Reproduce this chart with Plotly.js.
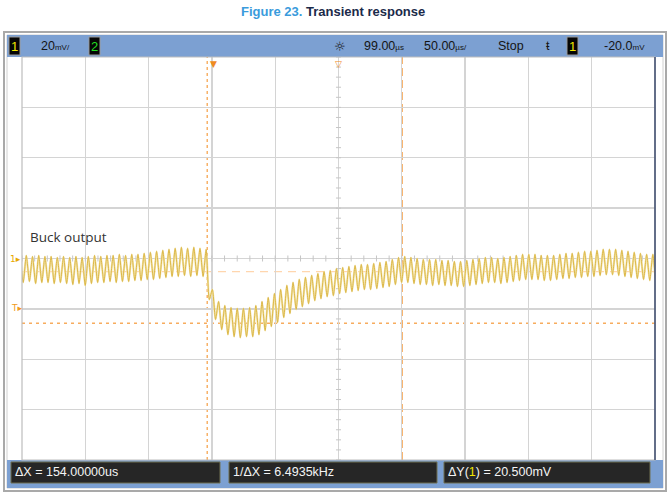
<!DOCTYPE html>
<html><head><meta charset="utf-8">
<script src="https://cdn.plot.ly/plotly-3.0.1.min.js"></script>
<style>body{margin:0;background:#fff}#chart{width:670px;height:496px}</style>
</head><body><div id="chart"></div>
<script>
// ---- data ----
const channelLabel = 'Buck output';
// ripple peaks / troughs of channel 1 (mV), one value per switching cycle
const peakMv = [0.8,1.2,0.8,1.2,0.8,0.8,0.4,0.8,0.4,0.8, 0.4,0.8,1.2,0.8,1.2,1.2,1.6,1.2,1.6,1.6,
  2.0,2.4,2.8,3.2,3.6,4.0,4.4,4.0,4.4,4.0, 3.6,-12.3,-17.1,-18.7,-19.5,-19.8,-19.8,-19.5,-18.7,-17.1,
  -15.5,-13.9,-12.3,-10.7,-9.5,-8.3,-7.5,-6.7,-6.0,-5.2, -4.8,-4.0,-3.6,-3.2,-2.8,-2.4,-2.4,-2.0,-1.6,-1.2,
  -0.4,0.4,0.8,0.4,0.0,-0.4,-0.4,-0.4,-0.8,-0.8, -1.2,-1.2,-0.8,-0.4,0.0,0.4,0.4,0.0,0.4,0.8,
  1.2,1.6,1.6,1.6,1.2,1.2,1.2,1.6,2.0,2.0, 2.4,2.8,2.8,3.2,3.6,3.6,3.6,3.2,2.8,2.4, 2.0,1.6,1.6,1.2];
const troughMv = [-9.5,-9.1,-9.9,-9.5,-9.5,-9.9,-9.5,-9.9,-10.3,-9.9, -10.7,-9.9,-9.5,-9.5,-9.1,-9.5,-9.1,-9.1,-8.7,-8.7,
  -8.3,-8.3,-7.9,-7.5,-7.1,-7.1,-6.7,-7.1,-6.7,-7.1, -16.3,-24.2,-28.2,-30.2,-31.0,-31.4,-31.0,-31.0,-30.2,-28.6,
  -27.0,-25.4,-23.4,-21.8,-20.2,-19.1,-17.9,-16.7,-15.9,-15.1, -14.7,-13.9,-13.5,-13.1,-12.7,-12.3,-12.3,-11.9,-11.5,-11.1,
  -10.3,-9.5,-9.5,-9.9,-10.3,-10.3,-10.7,-10.3,-10.7,-10.7, -11.1,-11.1,-10.7,-10.3,-9.9,-9.5,-9.5,-9.9,-9.5,-9.1,
  -8.7,-8.3,-8.3,-8.3,-8.7,-8.7,-8.3,-7.9,-7.9,-7.5, -7.5,-7.1,-7.1,-6.7,-6.4,-6.4,-6.7,-7.1,-7.5,-7.9, -8.3,-8.7,-8.7,-8.7];
const samplePeriodUs = 4.9;
const firstPeakUs = -152.5;
const timeRangeUs = [-151, 349];
const voltRangeMv = [-80, 80];
const timePerDivUs = 50;
const voltPerDivMv = 20;
const delayUs = 99;
const triggerTimeUs = 0;
const triggerLevelMv = -20;
const cursorXUs = [-4.7, 149.3];
const cursorYMv = [-5.2, -25.7];
const topBarTexts = ['20', 'mV/', '99.00', 'µs', '50.00', 'µs/', 'Stop', '-20.0', 'mV'];
const bottomTexts = ['ΔX = 154.00000us', '1/ΔX = 6.4935kHz', 'ΔY(', '1', ') = 20.500mV'];
const titleParts = ['Figure 23.', 'Transient response'];

// ---- build trace samples ----
const t = [], v = [];
for (let k = 0; k < peakMv.length; k++) {
  t.push(firstPeakUs + k * samplePeriodUs); v.push(peakMv[k]);
  t.push(firstPeakUs + k * samplePeriodUs + samplePeriodUs / 2); v.push(troughMv[k]);
}

// ---- pixel helpers for decorations ----
const L = 22, R = 655, T = 57, B = 460;
const px = X => (X - L) / (R - L);
const py = Y => (B - Y) / (B - T);
const narrow = 'Liberation Sans, Arial, sans-serif';

const shapes = [];
function rect(x0, y0, x1, y1, fill, line, lw, layer) {
  shapes.push({type: 'rect', xref: 'paper', yref: 'paper', x0: px(x0), x1: px(x1), y0: py(y1), y1: py(y0),
    fillcolor: fill || 'rgba(0,0,0,0)', line: {color: line || 'rgba(0,0,0,0)', width: lw || 0}, layer: layer || 'above'});
}
// outer frame and bars
rect(4, 32, 666, 491, null, '#A9A9A9', 2);
rect(7, 35, 663, 488, null, '#D0D0D0', 1);
rect(7, 35, 663, 57, '#7CA0D2', '#7CA0D2', 0);
rect(7, 460, 663, 488, '#7CA0D2', '#7CA0D2', 0);
rect(9, 37, 20, 55, '#050505', '#9A9A9A', 1);
rect(89, 37, 100, 55, '#050505', '#9A9A9A', 1);
rect(567, 37, 578, 55, '#050505', '#9A9A9A', 1);
rect(11, 462, 220, 483, '#262626', '#6E6E50', 1);
rect(229, 462, 437, 483, '#262626', '#6E6E50', 1);
rect(444, 462, 650, 483, '#262626', '#6E6E50', 1);
// plot border
rect(L, T, R, B, null, '#BDBDBD', 1.2);
shapes.push({type: 'line', xref: 'paper', yref: 'paper', x0: 1, x1: 1, y0: 0, y1: 1, line: {color: '#3C4B6E', width: 1.5}});

// center-line minor ticks (every 1/5 division)
const cx = (timeRangeUs[0] + timeRangeUs[1]) / 2;
for (let x = timeRangeUs[0]; x <= timeRangeUs[1] + 0.01; x += timePerDivUs / 5) {
  shapes.push({type: 'line', xref: 'x', yref: 'y', x0: x, x1: x, y0: -1.2, y1: 1.2, line: {color: '#C6C6C6', width: 1}, layer: 'between'});
}
for (let y = voltRangeMv[0]; y <= voltRangeMv[1] + 0.01; y += voltPerDivMv / 5) {
  shapes.push({type: 'line', xref: 'x', yref: 'y', x0: cx - 2, x1: cx + 2, y0: y, y1: y, line: {color: '#C6C6C6', width: 1}, layer: 'between'});
}
// cursors
shapes.push({type: 'line', xref: 'x', yref: 'paper', x0: cursorXUs[0], x1: cursorXUs[0], y0: 0, y1: 1, line: {color: '#F7AC5E', width: 1.4, dash: '3px,3px'}, layer: 'between'});
shapes.push({type: 'line', xref: 'x', yref: 'paper', x0: cursorXUs[1], x1: cursorXUs[1], y0: 0, y1: 1, line: {color: '#F7AC5E', width: 1.4, dash: '8px,4px'}, layer: 'between'});
shapes.push({type: 'line', xref: 'paper', yref: 'y', x0: 0, x1: 1, y0: cursorYMv[0], y1: cursorYMv[0], line: {color: '#FFD6AE', width: 1.4, dash: '8px,6px'}, layer: 'between'});
shapes.push({type: 'line', xref: 'paper', yref: 'y', x0: 0, x1: 1, y0: cursorYMv[1], y1: cursorYMv[1], line: {color: '#F7AC5E', width: 1.4, dash: '3px,4px'}, layer: 'between'});

const annotations = [];
function ann(x, y, text, opt) {
  opt = opt || {};
  annotations.push(Object.assign({xref: 'paper', yref: 'paper', x: px(x), y: py(y), text: text, showarrow: false,
    xanchor: 'left', yanchor: 'middle', font: {family: narrow, size: 12.5, color: '#151515'}}, opt));
}
const small = s => "<span style='font-size:8px'>" + s + "</span>";
// title
ann(333, 11, "<b><span style='color:#3A9BDC'>" + titleParts[0] + "</span> <span style='color:#1B2A4A'>" + titleParts[1] + "</span></b>",
  {xanchor: 'center', font: {family: 'Liberation Sans, Arial, sans-serif', size: 13, color: '#1B2A4A'}});
// top bar
ann(14.5, 46.5, '1', {xanchor: 'center', font: {family: narrow, size: 13, color: '#F2E600'}});
ann(39, 46, topBarTexts[0] + small(topBarTexts[1]));
ann(94.5, 46.5, '2', {xanchor: 'center', font: {family: narrow, size: 13, color: '#22DD22'}});
ann(340, 46, '☼', {xanchor: 'center', font: {family: 'DejaVu Sans', size: 13, color: '#151515'}});
ann(362, 46, topBarTexts[2] + small(topBarTexts[3]));
ann(422, 46, topBarTexts[4] + small(topBarTexts[5]));
ann(496, 46, topBarTexts[6]);
ann(548, 46, 'ŧ', {xanchor: 'center'});
ann(572.5, 46.5, '1', {xanchor: 'center', font: {family: narrow, size: 13, color: '#F2E600'}});
ann(602, 46, topBarTexts[7] + small(topBarTexts[8]));
// bottom bar
const wf = {family: narrow, size: 12.5, color: '#F4F4F4'};
ann(13, 472.5, bottomTexts[0], {font: wf});
ann(231, 472.5, bottomTexts[1], {font: wf});
ann(446, 472.5, bottomTexts[2] + "<span style='color:#F2E600'>" + bottomTexts[3] + "</span>" + bottomTexts[4], {font: wf});
// channel label
ann(28, 237, channelLabel, {font: {family: 'Open Sans, Lato, sans-serif', size: 13.5, color: '#333333'}});
// markers
annotations.push({xref: 'paper', yref: 'y', x: px(8), y: 0, text: '1▸', showarrow: false, xanchor: 'left', yanchor: 'middle',
  font: {family: 'DejaVu Sans', size: 9, color: '#E8A800'}});
annotations.push({xref: 'paper', yref: 'y', x: px(9), y: triggerLevelMv, text: 'T▸', showarrow: false, xanchor: 'left', yanchor: 'bottom',
  font: {family: 'DejaVu Sans', size: 9, color: '#F09A20'}, yshift: -6});
annotations.push({xref: 'x', yref: 'paper', x: triggerTimeUs, y: 1, text: '▼', showarrow: false, xanchor: 'center', yanchor: 'top',
  font: {family: 'DejaVu Sans', size: 9, color: '#F08A20'}});
annotations.push({xref: 'x', yref: 'paper', x: cx, y: 1, text: '▽', showarrow: false, xanchor: 'center', yanchor: 'top',
  font: {family: 'DejaVu Sans', size: 9, color: '#F08A20'}});

const traces = [
  {x: t, y: v, type: 'scatter', mode: 'lines', line: {color: '#F3E6B0', width: 2.2, shape: 'spline', smoothing: 0.6}, hoverinfo: 'skip'},
  {x: t, y: v, type: 'scatter', mode: 'lines', line: {color: '#D9B23C', width: 0.9, shape: 'spline', smoothing: 0.6}, hoverinfo: 'skip'}
];

const layout = {
  width: 670, height: 496, showlegend: false,
  margin: {l: L, r: 670 - R, t: T, b: 496 - B, pad: 0},
  paper_bgcolor: '#ffffff', plot_bgcolor: '#ffffff',
  xaxis: {range: timeRangeUs, tick0: timeRangeUs[0], dtick: timePerDivUs, showgrid: true, gridcolor: '#D4D4D4', gridwidth: 1.3,
    showticklabels: false, ticks: '', zeroline: false, showline: false, fixedrange: true},
  yaxis: {range: voltRangeMv, tick0: voltRangeMv[0], dtick: voltPerDivMv, showgrid: true, gridcolor: '#D4D4D4', gridwidth: 1.3,
    showticklabels: false, ticks: '', zeroline: false, showline: false, fixedrange: true},
  shapes: shapes, annotations: annotations
};
Plotly.newPlot('chart', traces, layout, {staticPlot: true, displayModeBar: false});
</script></body></html>
